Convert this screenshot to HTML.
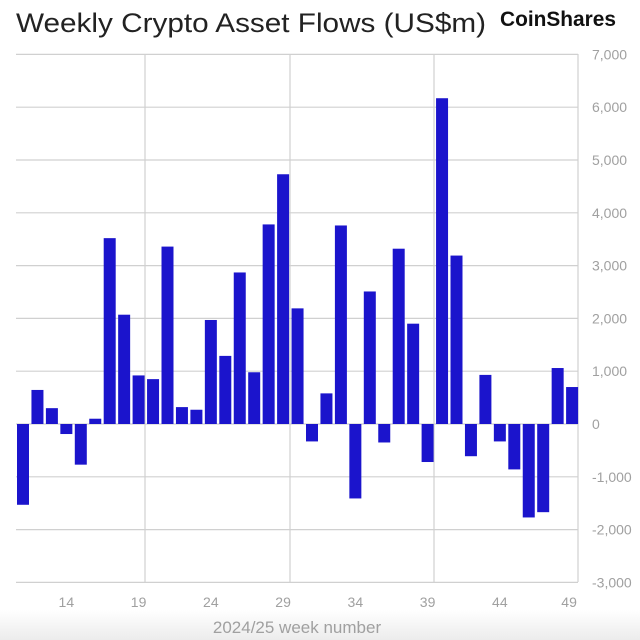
<!DOCTYPE html>
<html><head><meta charset="utf-8"><style>
html,body{margin:0;padding:0;background:#fff;}
svg{display:block;font-family:"Liberation Sans",sans-serif;}
</style></head><body>
<svg width="640" height="640" viewBox="0 0 640 640" xmlns="http://www.w3.org/2000/svg">
<defs><linearGradient id="g" x1="0" y1="0" x2="0" y2="1"><stop offset="0" stop-color="#fff"/><stop offset="1" stop-color="#ececec"/></linearGradient></defs>
<rect x="0" y="610" width="640" height="30" fill="url(#g)"/>
<text x="16" y="32" font-size="27" fill="#222" textLength="470" lengthAdjust="spacingAndGlyphs">Weekly Crypto Asset Flows (US$m)</text>
<text x="500" y="26" font-size="21" font-weight="bold" fill="#111" textLength="116" lengthAdjust="spacingAndGlyphs">CoinShares</text>
<g id="grid" stroke="#d0d0d0" stroke-width="1.2"></g>
<g id="bars" fill="#1b14cc"></g>
<g id="yl" font-size="14" fill="#a0a0a0"></g>
<g id="xl" font-size="14" fill="#a0a0a0" text-anchor="middle"></g>
<text x="297" y="633" font-size="17" fill="#a0a0a0" text-anchor="middle">2024/25 week number</text>
<script>
var ns="http://www.w3.org/2000/svg";
function el(p,t,a,txt){var e=document.createElementNS(ns,t);for(var k in a)e.setAttribute(k,a[k]);if(txt!=null)e.textContent=txt;document.getElementById(p).appendChild(e);}
var z=424,s=0.0528;
for(var v=-3000;v<=7000;v+=1000){var y=z-v*s;el("grid","line",{x1:16,x2:578,y1:y,y2:y});
el("yl","text",{x:592,y:y+5},v===0?"0":(v<0?"-":"")+Math.abs(v).toLocaleString("en-US"));}
[145,290,434,578].forEach(function(x){el("grid","line",{x1:x,x2:x,y1:54,y2:582});});
var d=[-1530,645,300,-190,-770,100,3520,2070,920,850,3360,320,270,1970,1290,2870,980,3780,4730,2190,-330,580,3760,-1410,2510,-350,3320,1900,-720,6170,3190,-610,930,-330,-860,-1770,-1670,1060,700];
d.forEach(function(v,i){var c=23+14.45*i,h=Math.abs(v)*s;el("bars","rect",{x:c-6,width:12,y:v>=0?z-h:z,height:h});});
for(var w=14;w<=49;w+=5){el("xl","text",{x:23+14.45*(w-11)+(w==49?-3:0),y:607},String(w));}
</script>
</svg>
</body></html>
